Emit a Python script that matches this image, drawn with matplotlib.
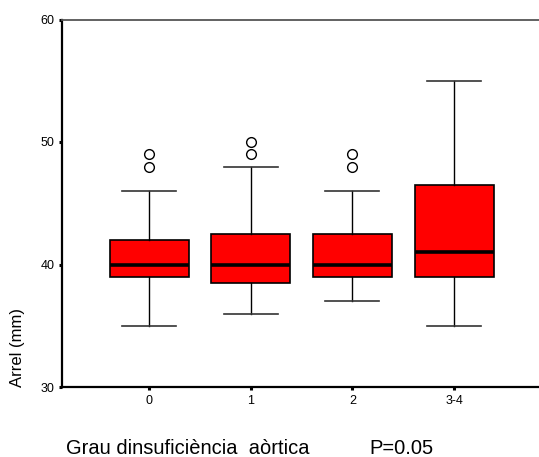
import matplotlib
matplotlib.use("Agg")
import matplotlib.pyplot as plt

plt.rcParams['font.family'] = ['Liberation Sans', 'DejaVu Sans']

# box statistics
groups = ["0", "1", "2", "3-4"]
q1 = [39, 38.5, 39, 39]
med = [40, 40, 40, 41]
q3 = [42, 42.5, 42.5, 46.5]
whislo = [35, 36, 37, 35]
whishi = [46, 48, 46, 55]
fliers = [[48, 49], [49, 50], [48, 49], []]

stats = []
for i, g in enumerate(groups):
    stats.append(dict(label=g, q1=q1[i], med=med[i], q3=q3[i],
                      whislo=whislo[i], whishi=whishi[i], fliers=fliers[i]))

fig = plt.figure(figsize=(5.39, 4.57), dpi=100)
ax = fig.add_axes([62/539, 1-387/457, 477/539, (387-19.5)/457])

ax.bxp(stats, positions=range(len(groups)), widths=0.777, patch_artist=True,
       boxprops=dict(facecolor='#ff0000', edgecolor='black', linewidth=1.2),
       medianprops=dict(color='black', linewidth=2.6, solid_capstyle='butt'),
       whiskerprops=dict(color='black', linewidth=1.0),
       capprops=dict(color='#333333', linewidth=1.2),
       capwidths=0.53,
       flierprops=dict(marker='o', markersize=7, markerfacecolor='none',
                       markeredgecolor='black', markeredgewidth=1.0))

ax.set_xlim(-0.856, 3.836)
ax.set_ylim(30, 60)
ax.set_yticks([30, 40, 50, 60])
ax.set_xticks(range(len(groups)))
ax.set_xticklabels(groups)

ax.spines['right'].set_visible(False)
ax.spines['left'].set_linewidth(1.6)
ax.spines['bottom'].set_linewidth(1.6)
ax.spines['top'].set_color('#555555')
ax.spines['top'].set_linewidth(1.3)
ax.tick_params(direction='out', length=2.5, width=2.2, labelsize=9, pad=3)

fig.text(18/539, 1-387/457, "Arrel (mm)", rotation=90, ha='center', va='bottom',
         fontsize=12)
fig.text(66/539, 1-448/457, "Grau dinsuficiència  aòrtica", ha='left', va='center',
         fontsize=14.5)
fig.text(369/539, 1-448/457, "P=0.05", ha='left', va='center', fontsize=14.5)

fig.savefig("out.png", dpi=100)
